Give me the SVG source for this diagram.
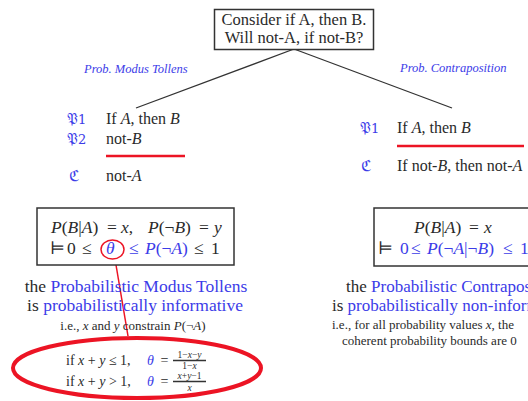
<svg xmlns="http://www.w3.org/2000/svg" width="528" height="401" viewBox="0 0 528 401">
<style>
.t{font-family:"Liberation Serif","DejaVu Serif",serif;fill:#2a2a2a}
.b{fill:#3c3ce8}
.i{font-style:italic}
.fk{font-family:"DejaVu Serif","DejaVu Sans",serif;fill:#3c3ce8}
.box{fill:#fff;stroke:#333;stroke-width:1.5}
.ln{stroke:#333;stroke-width:1.3;fill:none}
.red{stroke:#ec1424;fill:none}
</style>
<g id="connectors">
<path class="ln" d="M294,49 L136,108"/>
<path class="ln" d="M294,49 L452,108"/>
<path class="red" stroke-width="1.5" d="M115,259 L128,336"/>
</g>
<g id="question">
<rect class="box" x="214.5" y="9.5" width="159" height="40"/>
<text class="t" x="294" y="25" font-size="16.5" text-anchor="middle">Consider if A, then B.</text>
<text class="t" x="294" y="43" font-size="16.5" text-anchor="middle">Will not-A, if not-B?</text>
</g>
<g id="label-left">
<text class="t b i" x="84" y="73" font-size="12.5">Prob. Modus Tollens</text>
</g>
<g id="label-right">
<text class="t b i" x="400" y="72" font-size="12.5">Prob. Contraposition</text>
</g>
<g id="syllogism-left">
<text class="fk" x="67" y="124" font-size="15">𝔓<tspan font-size="13">1</tspan></text>
<text class="t" x="106" y="124" font-size="16">If <tspan class="i">A</tspan>, then <tspan class="i">B</tspan></text>
<text class="fk" x="67" y="144" font-size="15">𝔓<tspan font-size="13">2</tspan></text>
<text class="t" x="106" y="144" font-size="16">not-<tspan class="i">B</tspan></text>
<path class="red" stroke-width="2.5" d="M106,156 H185"/>
<text class="fk" x="69" y="181" font-size="15">ℭ</text>
<text class="t" x="106" y="181" font-size="16">not-<tspan class="i">A</tspan></text>
</g>
<g id="syllogism-right">
<text class="fk" x="360" y="133" font-size="15">𝔓<tspan font-size="13">1</tspan></text>
<text class="t" x="397" y="133" font-size="16">If <tspan class="i">A</tspan>, then <tspan class="i">B</tspan></text>
<path class="red" stroke-width="2.5" d="M397,146 H524"/>
<text class="fk" x="361" y="171" font-size="15">ℭ</text>
<text class="t" x="397" y="171" font-size="16">If not-<tspan class="i">B</tspan>, then not-<tspan class="i">A</tspan></text>
</g>
<g id="box-left">
<rect class="box" x="37" y="208" width="197" height="57"/>
<text class="t" y="233" font-size="17.5"><tspan class="i" x="51">P</tspan><tspan>(</tspan><tspan class="i">B</tspan><tspan>|</tspan><tspan class="i">A</tspan><tspan>)</tspan><tspan x="107">=</tspan><tspan class="i" x="121">x</tspan><tspan>,</tspan><tspan class="i" x="148">P</tspan><tspan>(¬</tspan><tspan class="i">B</tspan><tspan>)</tspan><tspan x="199">=</tspan><tspan class="i" x="214">y</tspan></text>
<text class="t" y="254" font-size="17.5"><tspan x="50">⊨</tspan><tspan x="67">0</tspan><tspan x="82">≤</tspan><tspan class="b i" x="106">θ</tspan><tspan class="b" x="129">≤</tspan><tspan class="b i" x="145">P</tspan><tspan class="b">(¬</tspan><tspan class="b i">A</tspan><tspan class="b">)</tspan><tspan x="194">≤</tspan><tspan x="211">1</tspan></text>
<ellipse class="red" stroke-width="1.5" cx="112.5" cy="249.5" rx="11.5" ry="9.5"/>
</g>
<g id="box-right">
<rect class="box" x="374" y="208" width="170" height="58"/>
<text class="t" y="233" font-size="17.5"><tspan class="i" x="414">P</tspan><tspan>(</tspan><tspan class="i">B</tspan><tspan>|</tspan><tspan class="i">A</tspan><tspan>)</tspan><tspan x="469">=</tspan><tspan class="i" x="484">x</tspan></text>
<text class="t" y="254" font-size="17.5"><tspan x="378">⊨</tspan><tspan class="b" x="400">0</tspan><tspan class="b" x="411">≤</tspan><tspan class="b i" x="427">P</tspan><tspan class="b">(¬</tspan><tspan class="b i">A</tspan><tspan class="b">|¬</tspan><tspan class="b i">B</tspan><tspan class="b">)</tspan><tspan class="b" x="503">≤</tspan><tspan class="b" x="520">1</tspan></text>
</g>
<g id="conclusion-left">
<text class="t" x="136" y="292" font-size="17.5" text-anchor="middle">the <tspan class="b">Probabilistic Modus Tollens</tspan></text>
<text class="t" x="135" y="311" font-size="17.5" text-anchor="middle">is <tspan class="b">probabilistically informative</tspan></text>
<text class="t" x="133" y="330" font-size="13" text-anchor="middle">i.e., <tspan class="i">x</tspan> and <tspan class="i">y</tspan> constrain <tspan class="i">P</tspan>(¬<tspan class="i">A</tspan>)</text>
</g>
<g id="conclusion-right">
<text class="t" x="346" y="292" font-size="17">the <tspan class="b">Probabilistic Contrapos</tspan></text>
<text class="t" x="332" y="311" font-size="17">is <tspan class="b">probabilistically non-inform</tspan></text>
<text class="t" x="332" y="329" font-size="13">i.e., for all probability values <tspan class="i">x</tspan>, the</text>
<text class="t" x="342" y="345" font-size="13">coherent probability bounds are 0</text>
</g>
<g id="bounds">
<ellipse class="red" stroke-width="4" cx="137" cy="368" rx="124" ry="30"/>
<text class="t" y="365" font-size="14"><tspan x="66">if </tspan><tspan class="i">x</tspan><tspan> + </tspan><tspan class="i">y</tspan><tspan> ≤ 1,</tspan><tspan class="b i" x="147">θ</tspan><tspan x="157"> =</tspan></text>
<text class="t" x="189.5" y="357.5" font-size="9.5" text-anchor="middle">1−<tspan class="i">x</tspan>−<tspan class="i">y</tspan></text>
<path class="ln" stroke-width="0.7" d="M173,360.5 H206"/>
<text class="t" x="189.5" y="368.5" font-size="9.5" text-anchor="middle">1−<tspan class="i">x</tspan></text>
<text class="t" y="386" font-size="14"><tspan x="66">if </tspan><tspan class="i">x</tspan><tspan> + </tspan><tspan class="i">y</tspan><tspan> &gt; 1,</tspan><tspan class="b i" x="147">θ</tspan><tspan x="157"> =</tspan></text>
<text class="t" x="189.5" y="379" font-size="9.5" text-anchor="middle"><tspan class="i">x</tspan>+<tspan class="i">y</tspan>−1</text>
<path class="ln" stroke-width="0.7" d="M173,381.5 H206"/>
<text class="t" x="189.5" y="390.5" font-size="9.5" text-anchor="middle"><tspan class="i">x</tspan></text>
</g>
</svg>
